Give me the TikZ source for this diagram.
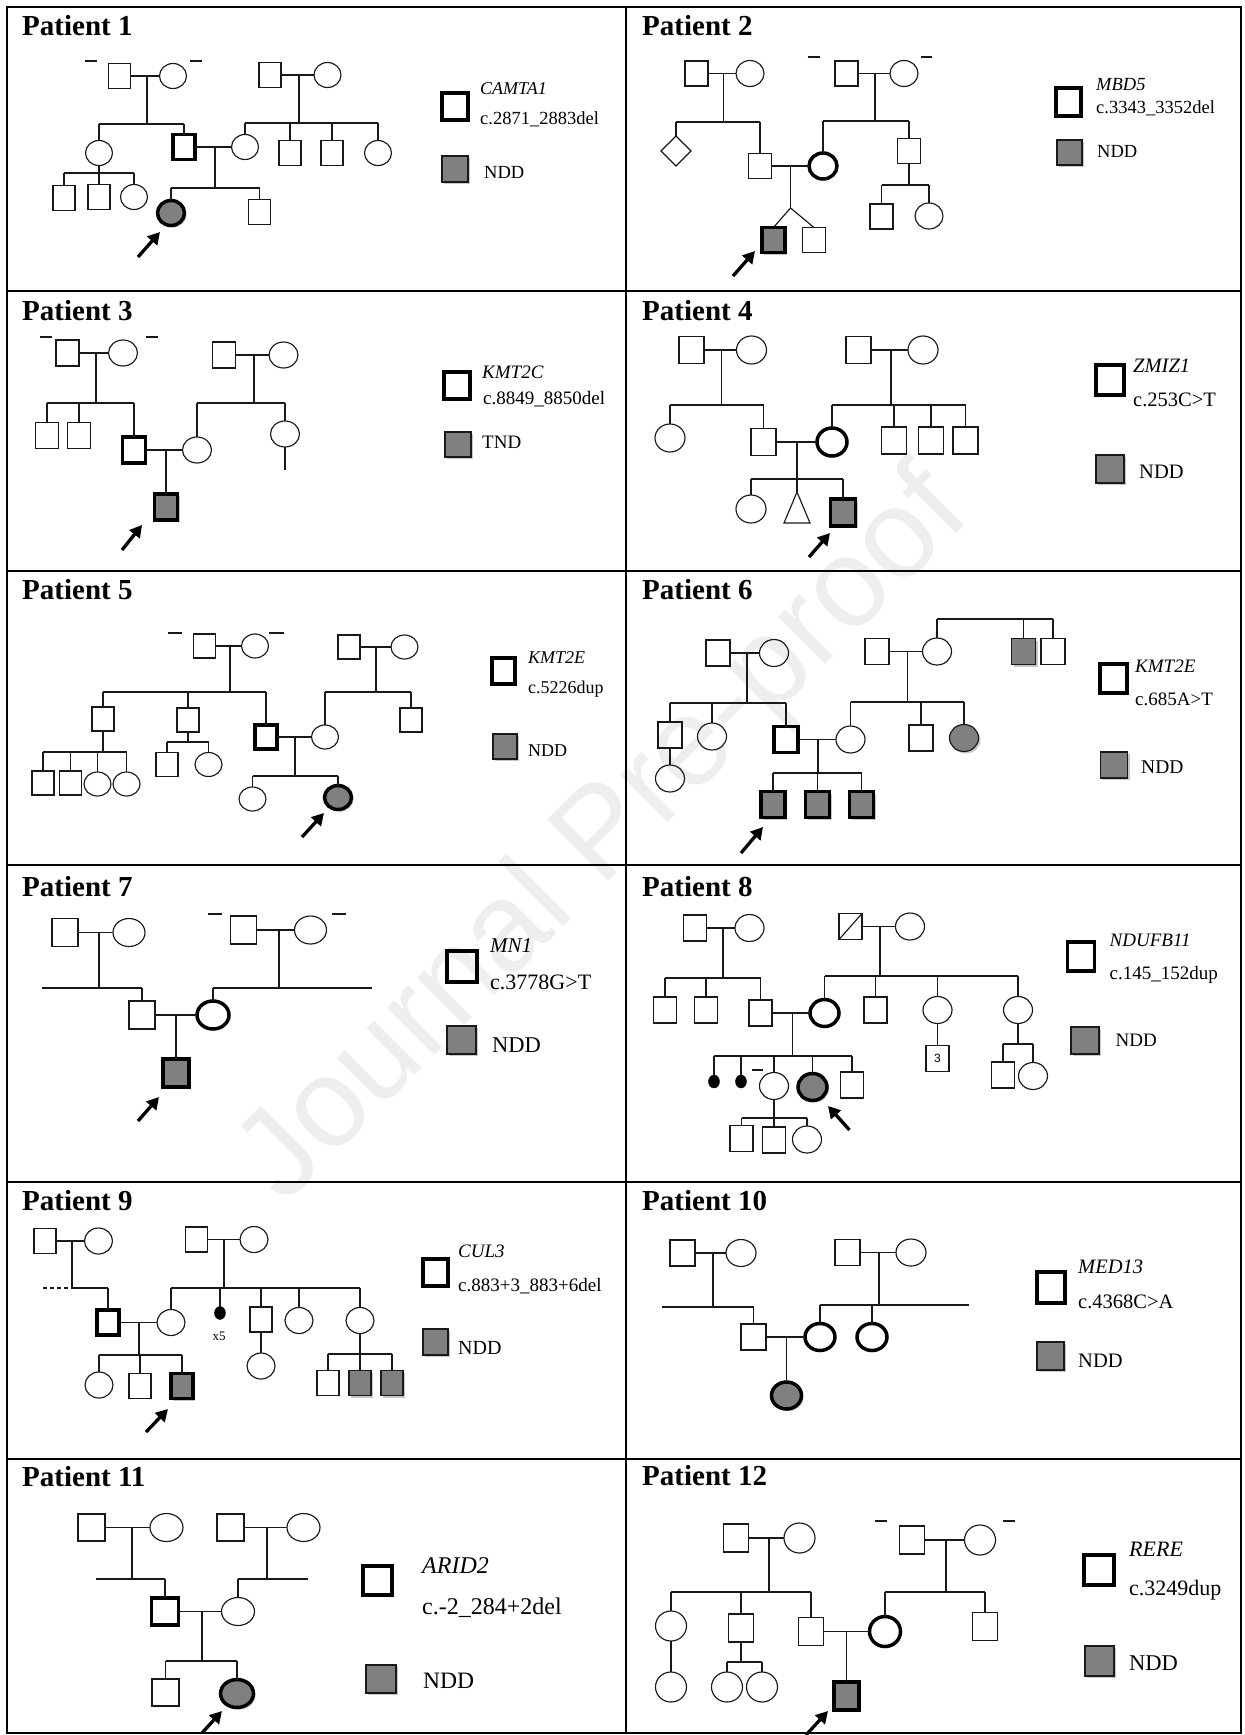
\documentclass[tikz,border=0pt]{standalone}
\usepackage{fontspec}
\setmainfont{Liberation Serif}
\newfontfamily\wmfont{Liberation Sans}
\usetikzlibrary{shapes.geometric,arrows.meta,shadows}
\definecolor{affgray}{RGB}{128,128,128}
\definecolor{wmgray}{RGB}{238,238,238}
\def\sqw{22pt}\def\sqh{25pt}\def\cw{27pt}\def\ch{25pt}
% bar point, start of descent, first child, last child, all children
\newcommand\kinship[5]{%
  \draw[pline] (#2) -- (#1);
  \draw[pline] (#3.north |- #1) -- (#4.north |- #1);
  \foreach \kid in {#5}{\draw[pline] (\kid.north) -- (\kid.north |- #1);}%
}
\tikzset{
  pline/.style={line width=1.15pt, draw=black!90},
  sym/.style={draw=black!90, line width=1.15pt, inner sep=0pt, outer sep=0pt},
  msq/.style={sym, rectangle, minimum width=\sqw, minimum height=\sqh},
  fci/.style={sym, ellipse, minimum width=\cw, minimum height=\ch},
  dia/.style={sym, diamond, minimum width=30pt, minimum height=30pt},
  car/.style={line width=3.5pt, draw=black},
  aff/.style={fill=affgray, drop shadow={shadow xshift=2pt, shadow yshift=-2pt, opacity=0.22, fill=black}},
  lbox/.style 2 args={sym, rectangle, minimum width=#1, minimum height=#2},
  ttl/.style={anchor=base west, inner sep=0pt, font=\bfseries\fontsize{29}{32}\selectfont},
  gtxt/.style={anchor=base west, inner sep=0pt, font=\itshape\fontsize{#1}{#1}\selectfont},
  vtxt/.style={anchor=base west, inner sep=0pt, font=\fontsize{#1}{#1}\selectfont},
  parrow/.style={line width=3.3pt, -{Triangle[length=12pt,width=13pt]}},
  gridln/.style={line width=2pt, draw=black},
  mdot/.style={ellipse, fill=black, draw=black, minimum width=11pt, minimum height=13pt, inner sep=0pt, outer sep=0pt},
}
\begin{document}
\begin{tikzpicture}[x=1pt,y=-1pt]
\useasboundingbox (0,0) rectangle (1245,1735);
\fill[white] (0,0) rectangle (1245,1735);

% watermark
\node[rotate=45, text=wmgray, font=\wmfont\fontsize{126}{126}\selectfont, inner sep=0pt] (wm) at (606,838) {Journal Pre-proof};

% table rules
\draw[gridln] (7,7) rectangle (1241,1733);
\draw[gridln] (626,7) -- (626,1733);
\foreach \yy in {291,571,865,1182,1459}{\draw[gridln] (7,\yy) -- (1241,\yy);}

% ---------------- Patient 1 ----------------
\begin{scope}
\def\sqw{22pt}\def\sqh{25pt}\def\cw{27pt}\def\ch{25pt}
\node[ttl] (t1) at (22,35) {Patient 1};
\draw[pline] (85,61) -- (97,61); \draw[pline] (190,61) -- (202,61);
\node[msq] (p1a) at (119.5,76) {};
\node[fci] (p1b) at (173,76) {};
\node[msq] (p1c) at (270,75) {};
\node[fci] (p1d) at (327.5,75) {};
\node[fci] (p1e) at (99,153) {};
\node[msq,car] (p1f) at (184,147) {};
\node[fci] (p1g) at (245,147) {};
\node[msq] (p1h) at (290,153) {};
\node[msq] (p1i) at (332,153) {};
\node[fci] (p1k) at (378,153) {};
\node[msq] (p1l) at (64,198) {};
\node[msq] (p1m) at (99,197) {};
\node[fci] (p1n) at (134,197) {};
\node[fci,car,aff] (p1p) at (171,213) {};
\node[msq] (p1q) at (259.5,212) {};
\draw[pline] (p1a) -- (p1b);
\draw[pline] (p1c) -- (p1d);
\draw[pline] (p1f) -- (p1g);
\coordinate (p1j1) at (147,76); \coordinate (p1s1) at (147,124);
\kinship{p1s1}{p1j1}{p1e}{p1f}{p1e,p1f}
\coordinate (p1j2) at (299,75); \coordinate (p1s2) at (299,123);
\kinship{p1s2}{p1j2}{p1g}{p1k}{p1g,p1h,p1i,p1k}
\coordinate (p1s3) at (99,173);
\kinship{p1s3}{p1e.south}{p1l}{p1n}{p1l,p1m,p1n}
\coordinate (p1j4) at (215,147); \coordinate (p1s4) at (215,188);
\kinship{p1s4}{p1j4}{p1p}{p1q}{p1p,p1q}
\coordinate (p1tl) at (138,257); \coordinate (p1tp) at (160,232);
\draw[parrow] (p1tl) -- (p1tp);
\node[lbox={26pt}{27pt},car] (p1lc) at (455,106.5) {};
\node[gtxt=18] (p1g1) at (480,94) {CAMTA1};
\node[vtxt=18.5] (p1v1) at (480,124) {c.2871\_2883del};
\node[lbox={26pt}{26pt},aff] (p1ln) at (455,169) {};
\node[vtxt=18.5] (p1n1) at (484,178) {NDD};
\end{scope}

% ---------------- Patient 2 ----------------
\begin{scope}
\def\sqw{23pt}\def\sqh{25pt}\def\cw{28pt}\def\ch{26pt}
\node[ttl] (t2) at (642,35) {Patient 2};
\draw[pline] (807.5,57) -- (820,57); \draw[pline] (920.5,57) -- (932,57);
\node[msq] (p2a) at (696.5,73.5) {};
\node[fci] (p2b) at (750,73.5) {};
\node[msq] (p2c) at (846.5,73.5) {};
\node[fci] (p2d) at (904,73.5) {};
\node[dia] (p2e) at (676,151) {};
\node[msq] (p2f) at (760,166) {};
\node[fci,car] (p2g) at (823,166) {};
\node[msq] (p2h) at (909,151) {};
\node[msq,car,aff] (p2i) at (773.5,240) {};
\node[msq] (p2k) at (814,240) {};
\node[msq] (p2l) at (881.5,216.5) {};
\node[fci] (p2m) at (929,216) {};
\draw[pline] (p2a) -- (p2b);
\draw[pline] (p2c) -- (p2d);
\draw[pline] (p2f) -- (p2g);
\coordinate (p2j1) at (723.5,73.5); \coordinate (p2s1) at (723.5,122);
\kinship{p2s1}{p2j1}{p2e}{p2f}{p2e,p2f}
\coordinate (p2j2) at (875,73.5); \coordinate (p2s2) at (875,121);
\kinship{p2s2}{p2j2}{p2g}{p2h}{p2g,p2h}
\coordinate (p2j3) at (790.5,166); \coordinate (p2tw) at (790.5,208);
\draw[pline] (p2j3) -- (p2tw);
\draw[pline] (p2tw) -- (p2i.north);
\draw[pline] (p2tw) -- (p2k.north);
\coordinate (p2s4) at (909,185);
\kinship{p2s4}{p2h.south}{p2l}{p2m}{p2l,p2m}
\coordinate (p2tl) at (733,276); \coordinate (p2tp) at (755,251);
\draw[parrow] (p2tl) -- (p2tp);
\node[lbox={25pt}{28pt},car] (p2lc) at (1068.5,102) {};
\node[gtxt=18.5] (p2g1) at (1096,90) {MBD5};
\node[vtxt=18.5] (p2v1) at (1096,113) {c.3343\_3352del};
\node[lbox={25pt}{25pt},aff] (p2ln) at (1069.5,152.5) {};
\node[vtxt=18.5] (p2n1) at (1097,157) {NDD};
\end{scope}

% ---------------- Patient 3 ----------------
\begin{scope}
\def\sqw{23pt}\def\sqh{26pt}\def\cw{29pt}\def\ch{26pt}
\node[ttl] (t3) at (22,320) {Patient 3};
\draw[pline] (40,337) -- (52,337); \draw[pline] (146,337) -- (158,337);
\node[msq] (p3a) at (67.5,353) {};
\node[fci] (p3b) at (123,353) {};
\node[msq] (p3c) at (224,355) {};
\node[fci] (p3d) at (283.5,355) {};
\node[msq] (p3e) at (47,435.5) {};
\node[msq] (p3f) at (79,435.5) {};
\node[msq,car] (p3g) at (134,450) {};
\node[fci] (p3h) at (197,450) {};
\node[fci] (p3i) at (285,434) {};
\node[msq,car,aff] (p3k) at (166,507) {};
\draw[pline] (p3a) -- (p3b);
\draw[pline] (p3c) -- (p3d);
\draw[pline] (p3g) -- (p3h);
\coordinate (p3j1) at (96,353); \coordinate (p3s1) at (96,403);
\kinship{p3s1}{p3j1}{p3e}{p3g}{p3e,p3f,p3g}
\coordinate (p3j2) at (254,355); \coordinate (p3s2) at (254,403);
\kinship{p3s2}{p3j2}{p3h}{p3i}{p3h,p3i}
\coordinate (p3ie) at (285,470);
\draw[pline] (p3i.south) -- (p3ie);
\coordinate (p3j3) at (166,450);
\draw[pline] (p3j3) -- (p3k.north);
\coordinate (p3tl) at (122,550); \coordinate (p3tp) at (142,525);
\draw[parrow] (p3tl) -- (p3tp);
\node[lbox={26pt}{27pt},car] (p3lc) at (457,385.5) {};
\node[gtxt=19] (p3g1) at (482,378) {KMT2C};
\node[vtxt=19] (p3v1) at (483,404) {c.8849\_8850del};
\node[lbox={26pt}{25pt},aff] (p3ln) at (458,444.5) {};
\node[vtxt=19] (p3n1) at (482,448) {TND};
\end{scope}

% ---------------- Patient 4 ----------------
\begin{scope}
\def\sqw{25pt}\def\sqh{27pt}\def\cw{30pt}\def\ch{28pt}
\node[ttl] (t4) at (642,320) {Patient 4};
\node[msq] (p4a) at (691.5,350) {};
\node[fci] (p4b) at (751.5,350) {};
\node[msq] (p4c) at (858.5,350) {};
\node[fci] (p4d) at (923,350) {};
\node[fci] (p4e) at (670,438) {};
\node[msq] (p4f) at (763.5,442) {};
\node[fci,car] (p4g) at (832,442) {};
\node[msq] (p4h) at (894,440.5) {};
\node[msq] (p4i) at (931,440.5) {};
\node[msq] (p4k) at (965.5,440.5) {};
\node[fci] (p4l) at (751,509) {};
\node[msq,car,aff] (p4m) at (843,512.5) {};
\draw[pline] (p4a) -- (p4b);
\draw[pline] (p4c) -- (p4d);
\draw[pline] (p4f) -- (p4g);
\coordinate (p4j1) at (721.5,350); \coordinate (p4s1) at (721.5,405);
\kinship{p4s1}{p4j1}{p4e}{p4f}{p4e,p4f}
\coordinate (p4j2) at (891,350); \coordinate (p4s2) at (891,405);
\kinship{p4s2}{p4j2}{p4g}{p4k}{p4g,p4h,p4i,p4k}
\coordinate (p4j3) at (797,442); \coordinate (p4s3) at (797,479);
\coordinate (p4tri) at (797,492);
\kinship{p4s3}{p4j3}{p4l}{p4m}{p4l,p4m}
\draw[pline] (p4s3) -- (p4tri);
\draw[pline] (p4tri) -- (784,523) -- (810,523) -- cycle;
\coordinate (p4tl) at (809,557); \coordinate (p4tp) at (830,533);
\draw[parrow] (p4tl) -- (p4tp);
\node[lbox={28pt}{30pt},car] (p4lc) at (1110,380) {};
\node[gtxt=20.5] (p4g1) at (1133,372) {ZMIZ1};
\node[vtxt=20.5] (p4v1) at (1133,406) {c.253C>T};
\node[lbox={28pt}{28pt},aff] (p4ln) at (1110,469) {};
\node[vtxt=20.5] (p4n1) at (1139,478) {NDD};
\end{scope}

% ---------------- Patient 5 ----------------
\begin{scope}
\def\sqw{22pt}\def\sqh{24pt}\def\cw{27pt}\def\ch{24pt}
\node[ttl] (t5) at (22,599) {Patient 5};
\draw[pline] (168,633) -- (182,633); \draw[pline] (269,633) -- (284,633);
\node[msq] (p5a) at (204.5,646) {};
\node[fci] (p5b) at (255,646) {};
\node[msq] (p5c) at (349,647) {};
\node[fci] (p5d) at (404.5,647) {};
\node[msq] (p5e) at (103,719) {};
\node[msq] (p5f) at (188,720) {};
\node[msq,car] (p5g) at (266,737) {};
\node[fci] (p5h) at (325,737) {};
\node[msq] (p5i) at (411,720) {};
\node[msq] (p5k) at (43,783) {};
\node[msq] (p5l) at (70.5,783) {};
\node[fci] (p5m) at (97.5,784) {};
\node[fci] (p5n) at (126.5,784) {};
\node[msq] (p5o) at (167,764.5) {};
\node[fci] (p5p) at (208.5,764.5) {};
\node[fci] (p5q) at (252.5,799) {};
\node[fci,car,aff] (p5r) at (338,797.5) {};
\draw[pline] (p5a) -- (p5b);
\draw[pline] (p5c) -- (p5d);
\draw[pline] (p5g) -- (p5h);
\coordinate (p5j1) at (230,646); \coordinate (p5s1) at (230,692);
\kinship{p5s1}{p5j1}{p5e}{p5g}{p5e,p5f,p5g}
\coordinate (p5j2) at (376,647); \coordinate (p5s2) at (376,692);
\kinship{p5s2}{p5j2}{p5h}{p5i}{p5h,p5i}
\coordinate (p5s3) at (103,752);
\kinship{p5s3}{p5e.south}{p5k}{p5n}{p5k,p5l,p5m,p5n}
\coordinate (p5s4) at (188,742);
\kinship{p5s4}{p5f.south}{p5o}{p5p}{p5o,p5p}
\coordinate (p5j5) at (295,737); \coordinate (p5s5) at (295,776);
\kinship{p5s5}{p5j5}{p5q}{p5r}{p5q,p5r}
\coordinate (p5tl) at (302,837); \coordinate (p5tp) at (324,813);
\draw[parrow] (p5tl) -- (p5tp);
\node[lbox={23pt}{26pt},car] (p5lc) at (503.5,671) {};
\node[gtxt=18] (p5g1) at (528,663) {KMT2E};
\node[vtxt=18] (p5v1) at (528,693) {c.5226dup};
\node[lbox={24pt}{25pt},aff] (p5ln) at (505,746.5) {};
\node[vtxt=18] (p5n1) at (528,756) {NDD};
\end{scope}

% ---------------- Patient 6 ----------------
\begin{scope}
\def\sqw{24pt}\def\sqh{26pt}\def\cw{29pt}\def\ch{27pt}
\node[ttl] (t6) at (642,599) {Patient 6};
\node[msq] (p6a) at (718,653) {};
\node[fci] (p6b) at (774,653) {};
\node[msq] (p6c) at (877,651.5) {};
\node[fci] (p6d) at (937,651.5) {};
\node[msq,aff] (p6e) at (1023.5,651.5) {};
\node[msq] (p6f) at (1053,651.5) {};
\node[msq] (p6g) at (670,735) {};
\node[fci] (p6h) at (712,736.5) {};
\node[msq,car] (p6i) at (786,739.5) {};
\node[fci] (p6k) at (850.5,739.5) {};
\node[msq] (p6l) at (921,738) {};
\node[fci,aff] (p6m) at (964,738) {};
\node[fci] (p6n) at (670,778.5) {};
\node[msq,car,aff] (p6o) at (773,804.5) {};
\node[msq,car,aff] (p6p) at (817.5,804.5) {};
\node[msq,car,aff] (p6q) at (861.5,804.5) {};
\draw[pline] (p6a) -- (p6b);
\draw[pline] (p6c) -- (p6d);
\draw[pline] (p6i) -- (p6k);
\coordinate (p6s0) at (937,619);
\draw[pline] (p6d.north |- p6s0) -- (p6f.north |- p6s0);
\foreach \kid in {p6d,p6e,p6f}{\draw[pline] (\kid.north) -- (\kid.north |- p6s0);}
\coordinate (p6j1) at (747,653); \coordinate (p6s1) at (747,703);
\kinship{p6s1}{p6j1}{p6g}{p6i}{p6g,p6h,p6i}
\coordinate (p6j2) at (907.5,651.5); \coordinate (p6s2) at (907.5,702);
\kinship{p6s2}{p6j2}{p6k}{p6m}{p6k,p6l,p6m}
\draw[pline] (p6g) -- (p6n);
\coordinate (p6j3) at (818,739.5); \coordinate (p6s3) at (818,773);
\kinship{p6s3}{p6j3}{p6o}{p6q}{p6o,p6p,p6q}
\coordinate (p6tl) at (741,853); \coordinate (p6tp) at (763,827);
\draw[parrow] (p6tl) -- (p6tp);
\node[lbox={27pt}{29pt},car] (p6lc) at (1113.5,678.5) {};
\node[gtxt=19] (p6g1) at (1135,672) {KMT2E};
\node[vtxt=19] (p6v1) at (1135,705) {c.685A>T};
\node[lbox={27pt}{26pt},aff] (p6ln) at (1114,765) {};
\node[vtxt=19.5] (p6n1) at (1141,773) {NDD};
\end{scope}

% ---------------- Patient 7 ----------------
\begin{scope}
\def\sqw{26pt}\def\sqh{28pt}\def\cw{32pt}\def\ch{28pt}
\node[ttl] (t7) at (22,896) {Patient 7};
\draw[pline] (208,914) -- (222,914); \draw[pline] (332,914) -- (346,914);
\node[msq] (p7a) at (65,932.5) {};
\node[fci] (p7b) at (129,932.5) {};
\node[msq] (p7c) at (243.5,930) {};
\node[fci] (p7d) at (310.5,930) {};
\node[msq] (p7e) at (142,1015) {};
\node[fci,car] (p7f) at (213,1015) {};
\node[msq,car,aff] (p7g) at (176,1073) {};
\draw[pline] (p7a) -- (p7b);
\draw[pline] (p7c) -- (p7d);
\draw[pline] (p7e) -- (p7f);
\coordinate (p7j1) at (99,932.5); \coordinate (p7s1) at (99,988);
\coordinate (p7f1) at (42,988);
\kinship{p7s1}{p7j1}{p7e}{p7e}{p7e}
\draw[pline] (p7f1) -- (p7e.north |- p7s1);
\coordinate (p7j2) at (279,930); \coordinate (p7s2) at (279,988);
\coordinate (p7f2) at (372,988);
\kinship{p7s2}{p7j2}{p7f}{p7f}{p7f}
\draw[pline] (p7f.north |- p7s2) -- (p7f2);
\coordinate (p7j3) at (176,1015);
\draw[pline] (p7j3) -- (p7g.north);
\coordinate (p7tl) at (138,1121); \coordinate (p7tp) at (159,1097);
\draw[parrow] (p7tl) -- (p7tp);
\node[lbox={30pt}{31pt},car] (p7lc) at (462,966.5) {};
\node[gtxt=21] (p7g1) at (490,952) {MN1};
\node[vtxt=22] (p7v1) at (490,989) {c.3778G>T};
\node[lbox={29pt}{28pt},aff] (p7ln) at (461.5,1040) {};
\node[vtxt=22.5] (p7n1) at (492,1052) {NDD};
\end{scope}

% ---------------- Patient 8 ----------------
\begin{scope}
\def\sqw{23pt}\def\sqh{26pt}\def\cw{29pt}\def\ch{27pt}
\node[ttl] (t8) at (642,896) {Patient 8};
\node[msq] (p8a) at (695,928) {};
\node[fci] (p8b) at (749.5,928) {};
\node[msq] (p8c) at (850.5,926.5) {};
\draw[pline] (p8c.south west) -- (p8c.north east);
\node[fci] (p8d) at (910,926.5) {};
\node[msq] (p8e) at (665,1010) {};
\node[msq] (p8f) at (706,1010) {};
\node[msq] (p8g) at (760.5,1013) {};
\node[fci,car] (p8h) at (824.5,1013) {};
\node[msq] (p8i) at (875.5,1010) {};
\node[fci] (p8k) at (937.5,1010) {};
\node[fci] (p8l) at (1018,1010) {};
\node[mdot] (p8m) at (714,1081.5) {};
\node[mdot] (p8n) at (741,1081.5) {};
\draw[pline] (752,1070) -- (763,1070);
\node[fci] (p8o) at (774,1086) {};
\node[fci,car,aff] (p8p) at (812.5,1087) {};
\node[msq] (p8q) at (852,1085) {};
\node[msq] (p8r) at (741.5,1138.5) {};
\node[msq] (p8s) at (774,1140) {};
\node[fci] (p8t) at (807,1139.5) {};
\node[msq,font=\wmfont\fontsize{12}{12}\selectfont] (p8u) at (937.5,1058.5) {3};
\node[msq] (p8v) at (1003,1075) {};
\node[fci] (p8w) at (1033,1076) {};
\draw[pline] (p8a) -- (p8b);
\draw[pline] (p8c) -- (p8d);
\draw[pline] (p8g) -- (p8h);
\coordinate (p8j1) at (723,928); \coordinate (p8s1) at (723,978);
\kinship{p8s1}{p8j1}{p8e}{p8g}{p8e,p8f,p8g}
\coordinate (p8j2) at (880,926.5); \coordinate (p8s2) at (880,976);
\kinship{p8s2}{p8j2}{p8h}{p8l}{p8h,p8i,p8k,p8l}
\coordinate (p8j3) at (792.5,1013); \coordinate (p8s3) at (792.5,1056);
\kinship{p8s3}{p8j3}{p8m}{p8q}{p8m,p8n,p8o,p8p,p8q}
\coordinate (p8s4) at (774,1118);
\kinship{p8s4}{p8o.south}{p8r}{p8t}{p8r,p8s,p8t}
\draw[pline] (p8k) -- (p8u);
\coordinate (p8s5) at (1018,1044);
\kinship{p8s5}{p8l.south}{p8v}{p8w}{p8v,p8w}
\coordinate (p8tl) at (849.5,1130); \coordinate (p8tp) at (828,1106);
\draw[parrow] (p8tl) -- (p8tp);
\node[lbox={27pt}{29pt},car] (p8lc) at (1081,956.5) {};
\node[gtxt=19] (p8g1) at (1109.5,946) {NDUFB11};
\node[vtxt=19] (p8v1) at (1109.5,979) {c.145\_152dup};
\node[lbox={28pt}{27pt},aff] (p8ln) at (1085,1040.5) {};
\node[vtxt=19] (p8n1) at (1115.5,1046) {NDD};
\end{scope}

% ---------------- Patient 9 ----------------
\begin{scope}
\def\sqw{22pt}\def\sqh{25pt}\def\cw{28pt}\def\ch{26pt}
\node[ttl] (t9) at (22,1210) {Patient 9};
\node[msq] (p9a) at (45,1241) {};
\node[fci] (p9b) at (98.5,1241) {};
\node[msq] (p9c) at (196.5,1239.5) {};
\node[fci] (p9d) at (254,1239.5) {};
\node[msq,car] (p9e) at (108,1322.5) {};
\node[fci] (p9f) at (171,1322.5) {};
\node[mdot] (p9g) at (220,1313) {};
\node[vtxt=13, anchor=center] (p9x) at (219,1336) {x5};
\node[msq] (p9h) at (261,1319.5) {};
\node[fci] (p9i) at (299,1320.5) {};
\node[fci] (p9k) at (360,1320.5) {};
\node[fci] (p9l) at (99,1385) {};
\node[msq] (p9m) at (140,1386) {};
\node[msq,car,aff] (p9n) at (182,1386) {};
\node[fci] (p9o) at (261,1366) {};
\node[msq] (p9p) at (328,1383) {};
\node[msq,aff] (p9q) at (360,1383) {};
\node[msq,aff] (p9r) at (392,1383) {};
\draw[pline] (p9a) -- (p9b);
\draw[pline] (p9c) -- (p9d);
\draw[pline] (p9e) -- (p9f);
\coordinate (p9j1) at (72,1241); \coordinate (p9s1) at (72,1288);
\coordinate (p9f1) at (43,1288);
\kinship{p9s1}{p9j1}{p9e}{p9e}{p9e}
\draw[pline] (p9s1) -- (p9e.north |- p9s1);
\draw[pline, dash pattern=on 4pt off 3pt] (p9f1) -- (p9s1);
\coordinate (p9j2) at (224,1239.5); \coordinate (p9s2) at (224,1288);
\kinship{p9s2}{p9j2}{p9f}{p9k}{p9f,p9g,p9h,p9i,p9k}
\coordinate (p9j3) at (139,1322.5); \coordinate (p9s3) at (139,1355);
\kinship{p9s3}{p9j3}{p9l}{p9n}{p9l,p9m,p9n}
\draw[pline] (p9h) -- (p9o);
\coordinate (p9s4) at (360,1354);
\kinship{p9s4}{p9k.south}{p9p}{p9r}{p9p,p9q,p9r}
\coordinate (p9tl) at (146,1432); \coordinate (p9tp) at (168,1409);
\draw[parrow] (p9tl) -- (p9tp);
\node[lbox={25pt}{27pt},car] (p9lc) at (435.5,1272.5) {};
\node[gtxt=19] (p9g1) at (458,1257) {CUL3};
\node[vtxt=19] (p9v1) at (458,1291) {c.883+3\_883+6del};
\node[lbox={25pt}{26pt},aff] (p9ln) at (435.5,1342) {};
\node[vtxt=20] (p9n1) at (458,1354) {NDD};
\end{scope}

% ---------------- Patient 10 ----------------
\begin{scope}
\def\sqw{25pt}\def\sqh{26pt}\def\cw{30pt}\def\ch{27pt}
\node[ttl] (t10) at (642,1210) {Patient 10};
\node[msq] (p10a) at (682.5,1253) {};
\node[fci] (p10b) at (741,1253) {};
\node[msq] (p10c) at (847.5,1252.5) {};
\node[fci] (p10d) at (911,1252.5) {};
\node[msq] (p10e) at (753.5,1337) {};
\node[fci,car] (p10f) at (820,1337) {};
\node[fci,car] (p10g) at (872,1337) {};
\node[fci,car,aff] (p10h) at (786.5,1395.5) {};
\draw[pline] (p10a) -- (p10b);
\draw[pline] (p10c) -- (p10d);
\draw[pline] (p10e) -- (p10f);
\coordinate (p10j1) at (713,1253); \coordinate (p10s1) at (713,1307);
\coordinate (p10f1) at (661.5,1307);
\kinship{p10s1}{p10j1}{p10e}{p10e}{p10e}
\draw[pline] (p10f1) -- (p10e.north |- p10s1);
\coordinate (p10j2) at (879,1252.5); \coordinate (p10s2) at (879,1305);
\coordinate (p10f2) at (969,1305);
\kinship{p10s2}{p10j2}{p10f}{p10g}{p10f,p10g}
\draw[pline] (p10g.north |- p10s2) -- (p10f2);
\coordinate (p10j3) at (786.5,1337);
\draw[pline] (p10j3) -- (p10h.north);
\node[lbox={28pt}{31pt},car] (p10lc) at (1051,1287.5) {};
\node[gtxt=20.5] (p10g1) at (1078,1273) {MED13};
\node[vtxt=20.5] (p10v1) at (1078,1308) {c.4368C>A};
\node[lbox={27pt}{28pt},aff] (p10ln) at (1050.5,1356) {};
\node[vtxt=20.5] (p10n1) at (1078,1367) {NDD};
\end{scope}

% ---------------- Patient 11 ----------------
\begin{scope}
\def\sqw{27pt}\def\sqh{27pt}\def\cw{33pt}\def\ch{28pt}
\node[ttl] (t11) at (22,1486) {Patient 11};
\node[msq] (p11a) at (91.5,1527.5) {};
\node[fci] (p11b) at (166.5,1527.5) {};
\node[msq] (p11c) at (230.5,1527.5) {};
\node[fci] (p11d) at (303.5,1527.5) {};
\node[msq,car] (p11e) at (165,1611.5) {};
\node[fci] (p11f) at (238,1611.5) {};
\node[msq] (p11g) at (165.5,1692.5) {};
\node[fci,car,aff] (p11h) at (237,1693.5) {};
\draw[pline] (p11a) -- (p11b);
\draw[pline] (p11c) -- (p11d);
\draw[pline] (p11e) -- (p11f);
\coordinate (p11j1) at (132,1527.5); \coordinate (p11s1) at (132,1579);
\coordinate (p11f1) at (96,1579);
\kinship{p11s1}{p11j1}{p11e}{p11e}{p11e}
\draw[pline] (p11f1) -- (p11e.north |- p11s1);
\coordinate (p11j2) at (267,1527.5); \coordinate (p11s2) at (267,1579);
\coordinate (p11f2) at (308,1579);
\kinship{p11s2}{p11j2}{p11f}{p11f}{p11f}
\draw[pline] (p11f.north |- p11s2) -- (p11f2);
\coordinate (p11j3) at (202,1611.5); \coordinate (p11s3) at (202,1661);
\kinship{p11s3}{p11j3}{p11g}{p11h}{p11g,p11h}
\coordinate (p11tl) at (202,1733); \coordinate (p11tp) at (222,1711);
\draw[parrow] (p11tl) -- (p11tp);
\node[lbox={29pt}{29pt},car] (p11lc) at (377.5,1580.5) {};
\node[gtxt=24] (p11g1) at (422,1573) {ARID2};
\node[vtxt=24] (p11v1) at (422,1614) {c.-2\_284+2del};
\node[lbox={30pt}{28pt},aff] (p11ln) at (381,1679) {};
\node[vtxt=23.5] (p11n1) at (423,1688) {NDD};
\end{scope}

% ---------------- Patient 12 ----------------
\begin{scope}
\def\sqw{25pt}\def\sqh{28pt}\def\cw{31pt}\def\ch{30pt}
\node[ttl] (t12) at (642,1485) {Patient 12};
\draw[pline] (875,1521) -- (887,1521); \draw[pline] (1003,1521) -- (1015,1521);
\node[msq] (p12a) at (736,1538) {};
\node[fci] (p12b) at (799.5,1538) {};
\node[msq] (p12c) at (912,1540) {};
\node[fci] (p12d) at (980,1540) {};
\node[fci] (p12e) at (671,1626) {};
\node[msq] (p12f) at (741,1628) {};
\node[msq] (p12g) at (811,1631.5) {};
\node[fci,car] (p12h) at (885,1631.5) {};
\node[msq] (p12i) at (985,1626.5) {};
\node[fci] (p12k) at (671,1687) {};
\node[fci] (p12l) at (727,1687) {};
\node[fci] (p12m) at (762,1687) {};
\node[msq,car,aff] (p12n) at (846.5,1696) {};
\draw[pline] (p12a) -- (p12b);
\draw[pline] (p12c) -- (p12d);
\draw[pline] (p12g) -- (p12h);
\coordinate (p12j1) at (769,1538); \coordinate (p12s1) at (769,1592);
\kinship{p12s1}{p12j1}{p12e}{p12g}{p12e,p12f,p12g}
\coordinate (p12j2) at (946,1540); \coordinate (p12s2) at (946,1592);
\kinship{p12s2}{p12j2}{p12h}{p12i}{p12h,p12i}
\draw[pline] (p12e) -- (p12k);
\coordinate (p12s3) at (741,1662);
\kinship{p12s3}{p12f.south}{p12l}{p12m}{p12l,p12m}
\coordinate (p12j4) at (846.5,1631.5);
\draw[pline] (p12j4) -- (p12n.north);
\coordinate (p12tl) at (806,1735); \coordinate (p12tp) at (828,1711);
\draw[parrow] (p12tl) -- (p12tp);
\node[lbox={30pt}{30pt},car] (p12lc) at (1099,1570) {};
\node[gtxt=22] (p12g1) at (1129,1556) {RERE};
\node[vtxt=22] (p12v1) at (1129,1595) {c.3249dup};
\node[lbox={29pt}{30pt},aff] (p12ln) at (1099.5,1661) {};
\node[vtxt=22.5] (p12n1) at (1129,1670) {NDD};
\end{scope}
\end{tikzpicture}
\end{document}
